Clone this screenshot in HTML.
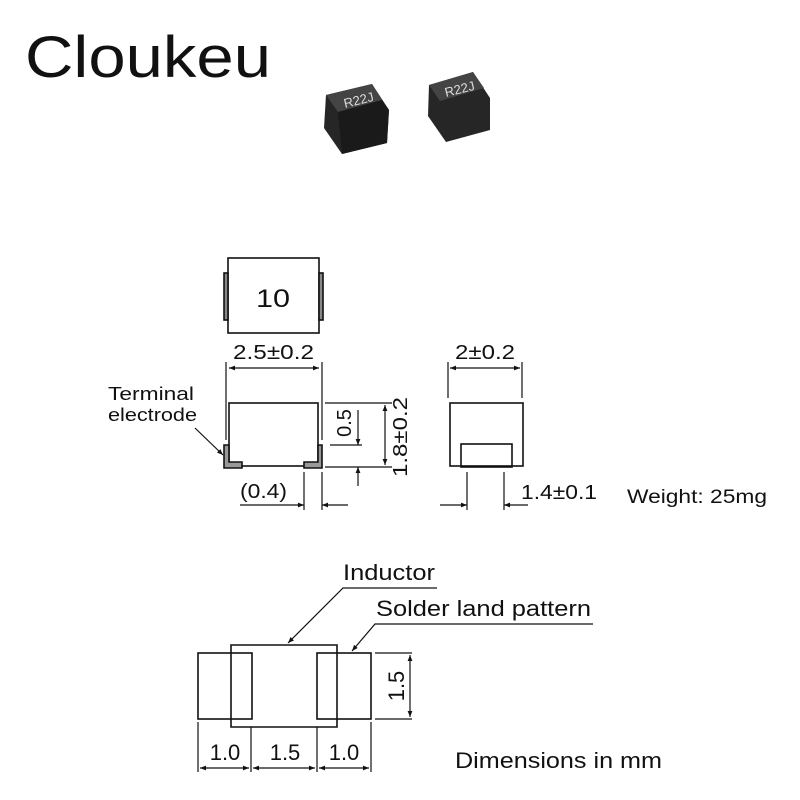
<!DOCTYPE html>
<html><head><meta charset="utf-8"><style>
body{margin:0;background:#fff}
svg{display:block}
text{font-family:"Liberation Sans",Arial,sans-serif;fill:#111}
</style></head><body>
<svg width="800" height="800" viewBox="0 0 800 800" xmlns="http://www.w3.org/2000/svg">
<defs>
<marker id="a" viewBox="0 0 10 10" refX="10" refY="5" markerWidth="7" markerHeight="5" orient="auto-start-reverse"><path d="M0,1 L10,5 L0,9 Z" fill="#111"/></marker>
</defs>
<text x="25" y="77" font-size="58" textLength="246" lengthAdjust="spacingAndGlyphs">Cloukeu</text>

<!-- photos -->
<g>
<polygon points="326,95 372,84 389,110 387,143 342,154 324,128" fill="#262626"/>
<polygon points="326,95 372,84 382,100 338,112" fill="#444"/>
<polygon points="338,112 382,100 389,110 387,143 342,154" fill="#1a1a1a"/>
<text x="345" y="108" font-size="13" transform="rotate(-14 345 108)" style="fill:#ddd">R22J</text>
<polygon points="429,85 473,72 490,98 490,130 446,142 428,116" fill="#262626"/>
<polygon points="429,85 473,72 484,88 440,101" fill="#444"/>
<text x="446" y="97" font-size="13" transform="rotate(-14 446 97)" style="fill:#ddd">R22J</text>
</g>

<g stroke="#111" stroke-width="1.6" fill="none">
<rect x="228" y="258" width="91" height="75" fill="#fff"/>
<rect x="224" y="273" width="4" height="47" fill="#888"/>
<rect x="319" y="273" width="4" height="47" fill="#888"/>
<rect x="229" y="403" width="89" height="63"/>
<path d="M224,445 V468 H242 V462 H229 V445 Z" fill="#999"/>
<path d="M322,445 V468 H304 V462 H318 V445 Z" fill="#999"/>
<line x1="226" y1="362" x2="226" y2="440" stroke-width="1.2"/>
<line x1="322" y1="362" x2="322" y2="440" stroke-width="1.2"/>
<line x1="229" y1="368" x2="319" y2="368" stroke-width="1.2" marker-start="url(#a)" marker-end="url(#a)"/>
<line x1="325" y1="403" x2="392" y2="403" stroke-width="1.2"/>
<line x1="330" y1="445" x2="362" y2="445" stroke-width="1.2"/>
<line x1="325" y1="467" x2="392" y2="467" stroke-width="1.2"/>
<line x1="358" y1="410" x2="358" y2="445" stroke-width="1.2" marker-end="url(#a)"/>
<line x1="358" y1="486" x2="358" y2="467" stroke-width="1.2" marker-end="url(#a)"/>
<line x1="385" y1="405" x2="385" y2="465" stroke-width="1.2" marker-start="url(#a)" marker-end="url(#a)"/>
<line x1="304" y1="472" x2="304" y2="510" stroke-width="1.2"/>
<line x1="322" y1="472" x2="322" y2="510" stroke-width="1.2"/>
<line x1="240" y1="505" x2="304" y2="505" stroke-width="1.2" marker-end="url(#a)"/>
<line x1="348" y1="505" x2="322" y2="505" stroke-width="1.2" marker-end="url(#a)"/>
<line x1="195" y1="428" x2="223" y2="455" stroke-width="1.2" marker-end="url(#a)"/>
<rect x="450" y="403" width="73" height="63"/>
<rect x="461" y="444" width="51" height="23"/>
<line x1="448" y1="362" x2="448" y2="398" stroke-width="1.2"/>
<line x1="522" y1="362" x2="522" y2="398" stroke-width="1.2"/>
<line x1="450" y1="368" x2="520" y2="368" stroke-width="1.2" marker-start="url(#a)" marker-end="url(#a)"/>
<line x1="467" y1="472" x2="467" y2="510" stroke-width="1.2"/>
<line x1="504" y1="472" x2="504" y2="510" stroke-width="1.2"/>
<line x1="440" y1="505" x2="467" y2="505" stroke-width="1.2" marker-end="url(#a)"/>
<line x1="528" y1="505" x2="504" y2="505" stroke-width="1.2" marker-end="url(#a)"/>

<rect x="198" y="653" width="54" height="66"/>
<rect x="317" y="653" width="54" height="66"/>
<path d="M231,653 V645 H337 V653 M231,719 V727 H337 V719"/>
<line x1="231" y1="653" x2="231" y2="719"/>
<line x1="337" y1="653" x2="337" y2="719"/>
<line x1="375" y1="653" x2="412" y2="653" stroke-width="1.2"/>
<line x1="375" y1="719" x2="412" y2="719" stroke-width="1.2"/>
<line x1="410" y1="655" x2="410" y2="717" stroke-width="1.2" marker-start="url(#a)" marker-end="url(#a)"/>
<line x1="198" y1="722" x2="198" y2="772" stroke-width="1.2"/>
<line x1="251" y1="727" x2="251" y2="772" stroke-width="1.2"/>
<line x1="317" y1="727" x2="317" y2="772" stroke-width="1.2"/>
<line x1="371" y1="722" x2="371" y2="772" stroke-width="1.2"/>
<line x1="200" y1="768" x2="249" y2="768" stroke-width="1.2" marker-start="url(#a)" marker-end="url(#a)"/>
<line x1="253" y1="768" x2="315" y2="768" stroke-width="1.2" marker-start="url(#a)" marker-end="url(#a)"/>
<line x1="319" y1="768" x2="369" y2="768" stroke-width="1.2" marker-start="url(#a)" marker-end="url(#a)"/>
<polyline points="437,588 343,588 288,643" stroke-width="1.2" marker-end="url(#a)"/>
<polyline points="593,624 375,624 352,651" stroke-width="1.2" marker-end="url(#a)"/>
</g>

<g font-size="20">
<text x="256" y="307" font-size="25" textLength="34" lengthAdjust="spacingAndGlyphs">10</text>
<text x="233" y="359" textLength="81" lengthAdjust="spacingAndGlyphs">2.5±0.2</text>
<text x="455" y="359" textLength="60" lengthAdjust="spacingAndGlyphs">2±0.2</text>
<text x="108" y="400" font-size="18" textLength="86" lengthAdjust="spacingAndGlyphs">Terminal</text>
<text x="108" y="421" font-size="18" textLength="89" lengthAdjust="spacingAndGlyphs">electrode</text>
<text x="0" y="0" text-anchor="middle" transform="translate(351,423) rotate(-90)">0.5</text>
<text x="0" y="0" text-anchor="middle" transform="translate(407,437) rotate(-90)" textLength="80" lengthAdjust="spacingAndGlyphs">1.8±0.2</text>
<text x="240" y="498" textLength="47" lengthAdjust="spacingAndGlyphs">(0.4)</text>
<text x="521" y="499" textLength="76" lengthAdjust="spacingAndGlyphs">1.4±0.1</text>
<text x="627" y="503" font-size="19" textLength="140" lengthAdjust="spacingAndGlyphs">Weight: 25mg</text>
<text x="343" y="580" font-size="22" textLength="92" lengthAdjust="spacingAndGlyphs">Inductor</text>
<text x="376" y="616" font-size="22" textLength="215" lengthAdjust="spacingAndGlyphs">Solder land pattern</text>
<text x="0" y="0" font-size="22" text-anchor="middle" transform="translate(404,686) rotate(-90)">1.5</text>
<text x="225" y="760" font-size="22" text-anchor="middle">1.0</text>
<text x="285" y="760" font-size="22" text-anchor="middle">1.5</text>
<text x="344" y="760" font-size="22" text-anchor="middle">1.0</text>
<text x="455" y="768" font-size="22" textLength="207" lengthAdjust="spacingAndGlyphs">Dimensions in mm</text>
</g>
</svg>
</body></html>
